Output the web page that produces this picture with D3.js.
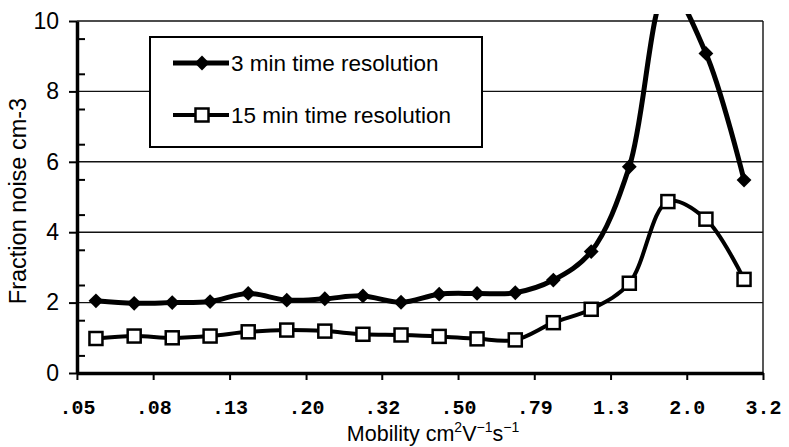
<!DOCTYPE html>
<html>
<head>
<meta charset="utf-8">
<script src="https://cdn.jsdelivr.net/npm/d3@7"></script>
<style>
  body { margin: 0; background: #fff; }
  svg { display: block; }
</style>
</head>
<body>
<svg id="chart" width="789" height="447"></svg>
<script>
// Mobility (cm2/Vs) at each point, log spaced
const mobility = [0.0562, 0.0708, 0.0891, 0.112, 0.141, 0.178, 0.224, 0.282, 0.355,
                  0.447, 0.562, 0.708, 0.891, 1.12, 1.41, 1.78, 2.24, 2.82];
// Fraction noise, 3 min time resolution
const noise3min = [2.05, 1.98, 2.0, 2.03, 2.26, 2.07, 2.11, 2.19, 2.01,
                   2.24, 2.26, 2.28, 2.64, 3.45, 5.86, 10.9, 9.08, 5.48];
// Fraction noise, 15 min time resolution
const noise15min = [0.98, 1.05, 1.0, 1.05, 1.17, 1.22, 1.19, 1.10, 1.08,
                    1.04, 0.97, 0.94, 1.43, 1.81, 2.55, 4.87, 4.37, 2.66];
// x tick positions and their printed labels
const xTickValues = [0.0501, 0.0794, 0.126, 0.200, 0.316, 0.501, 0.794, 1.259, 1.995, 3.162];
const xTickLabels = ['.05', '.08', '.13', '.20', '.32', '.50', '.79', '1.3', '2.0', '3.2'];
const yTickValues = [0, 2, 4, 6, 8, 10];
const legendLabels = ['3 min time resolution', '15 min time resolution'];

const width = 789, height = 447;
const margin = { left: 77, top: 21, right: 26, bottom: 74 };
const sans = 'Liberation Sans, Arial, sans-serif';

let svg = d3.select('#chart');

let x = d3.scaleLog()
    .domain([Math.pow(10, -1.3), Math.pow(10, 0.5)])
    .range([margin.left, width - margin.right]);
let y = d3.scaleLinear()
    .domain([0, 10])
    .range([height - margin.bottom, margin.top]);

// Horizontal gridlines
svg.append('g')
    .selectAll('line')
    .data(yTickValues.filter((d) => d > 0))
    .enter()
    .append('line')
    .attr('x1', margin.left)
    .attr('x2', width - margin.right)
    .attr('y1', (d) => y(d))
    .attr('y2', (d) => y(d))
    .attr('stroke', '#111')
    .attr('stroke-width', 1.4);

// Right border
svg.append('line')
    .attr('x1', width - margin.right)
    .attr('x2', width - margin.right)
    .attr('y1', y(10))
    .attr('y2', y(0))
    .attr('stroke', '#111')
    .attr('stroke-width', 1.4);

// Minor y ticks (inside)
svg.append('g')
    .attr('transform', 'translate(' + margin.left + ',0)')
    .call(d3.axisRight(y).tickValues(d3.range(0.5, 10, 1)).tickSize(8).tickFormat(''))
    .call((g) => g.select('.domain').remove())
    .selectAll('line').attr('stroke', '#000').attr('stroke-width', 2);

// Y axis
let yAxis = svg.append('g')
    .attr('transform', 'translate(' + margin.left + ',0)')
    .call(d3.axisLeft(y).tickValues(yTickValues).tickSize(8).tickPadding(10).tickSizeOuter(0));
yAxis.select('.domain').attr('stroke', '#000').attr('stroke-width', 3.5);
yAxis.selectAll('.tick line').attr('stroke', '#000').attr('stroke-width', 2);
yAxis.selectAll('.tick text')
    .attr('font-family', sans)
    .attr('font-size', 23)
    .attr('fill', '#000');

// X axis
let xAxis = svg.append('g')
    .attr('transform', 'translate(0,' + y(0) + ')')
    .call(d3.axisBottom(x).tickValues(xTickValues).tickSize(7).tickPadding(20).tickSizeOuter(0)
        .tickFormat((d, i) => xTickLabels[i]));
xAxis.select('.domain').attr('stroke', '#000').attr('stroke-width', 3.5);
xAxis.selectAll('.tick line').attr('stroke', '#000').attr('stroke-width', 2);
xAxis.selectAll('.tick text')
    .attr('font-family', 'Liberation Mono, Courier New, monospace')
    .attr('font-weight', 'bold')
    .attr('font-size', 20)
    .attr('fill', '#000');

// Axis titles
svg.append('text')
    .attr('transform', 'translate(26,' + ((y(0) + y(10)) / 2 + 4) + ') rotate(-90)')
    .attr('text-anchor', 'middle')
    .attr('font-family', sans)
    .attr('font-size', 23.5)
    .text('Fraction noise cm-3');

let xTitle = svg.append('text')
    .attr('x', 433)
    .attr('y', 441)
    .attr('text-anchor', 'middle')
    .attr('font-family', sans)
    .attr('font-size', 21.5);
xTitle.append('tspan').text('Mobility cm');
xTitle.append('tspan').attr('font-size', 14).attr('dy', -9).text('2');
xTitle.append('tspan').attr('dy', 9).text('V');
xTitle.append('tspan').attr('font-size', 14).attr('dy', -9).text('\u22121');
xTitle.append('tspan').attr('dy', 9).text('s');
xTitle.append('tspan').attr('font-size', 14).attr('dy', -9).text('\u22121');

// Clip for series (the peak runs off the top)
svg.append('defs').append('clipPath').attr('id', 'plot-clip')
    .append('rect')
    .attr('x', margin.left)
    .attr('y', 14)
    .attr('width', width - margin.left)
    .attr('height', height - 14);

let line = d3.line()
    .x((d) => x(d[0]))
    .y((d) => y(d[1]))
    .curve(d3.curveCatmullRom.alpha(0.5));

let series3 = d3.zip(mobility, noise3min);
let series15 = d3.zip(mobility, noise15min);

let plot = svg.append('g').attr('clip-path', 'url(#plot-clip)');

plot.append('path')
    .attr('d', line(series15))
    .attr('fill', 'none')
    .attr('stroke', '#000')
    .attr('stroke-width', 4);

plot.append('path')
    .attr('d', line(series3))
    .attr('fill', 'none')
    .attr('stroke', '#000')
    .attr('stroke-width', 5);

let diamond = d3.symbol().type(d3.symbolDiamond2).size(140);

plot.selectAll('.m3')
    .data(series3)
    .enter()
    .append('path')
    .attr('class', 'm3')
    .attr('transform', (d) => 'translate(' + x(d[0]) + ',' + y(d[1]) + ')')
    .attr('d', diamond)
    .attr('fill', '#000');

plot.selectAll('.m15')
    .data(series15)
    .enter()
    .append('rect')
    .attr('class', 'm15')
    .attr('x', (d) => x(d[0]) - 6.5)
    .attr('y', (d) => y(d[1]) - 6.5)
    .attr('width', 13)
    .attr('height', 13)
    .attr('fill', '#fff')
    .attr('stroke', '#000')
    .attr('stroke-width', 2.5);

// Legend
let legend = svg.append('g');
legend.append('rect')
    .attr('x', 150)
    .attr('y', 37)
    .attr('width', 332)
    .attr('height', 110)
    .attr('fill', '#fff')
    .attr('stroke', '#000')
    .attr('stroke-width', 2);

let rows = [63, 115];
legend.selectAll('.lg-line')
    .data(rows)
    .enter()
    .append('line')
    .attr('x1', 173)
    .attr('x2', 229)
    .attr('y1', (d) => d)
    .attr('y2', (d) => d)
    .attr('stroke', '#000')
    .attr('stroke-width', (d, i) => (i === 0 ? 5 : 4));

legend.append('path')
    .attr('transform', 'translate(202,' + rows[0] + ')')
    .attr('d', diamond)
    .attr('fill', '#000');
legend.append('rect')
    .attr('x', 202 - 6.5)
    .attr('y', rows[1] - 6.5)
    .attr('width', 13)
    .attr('height', 13)
    .attr('fill', '#fff')
    .attr('stroke', '#000')
    .attr('stroke-width', 2.5);

legend.selectAll('.lg-text')
    .data(legendLabels)
    .enter()
    .append('text')
    .attr('x', 231)
    .attr('y', (d, i) => rows[i] + 8)
    .attr('font-family', sans)
    .attr('font-size', 22.5)
    .text((d) => d);
</script>
</body>
</html>
